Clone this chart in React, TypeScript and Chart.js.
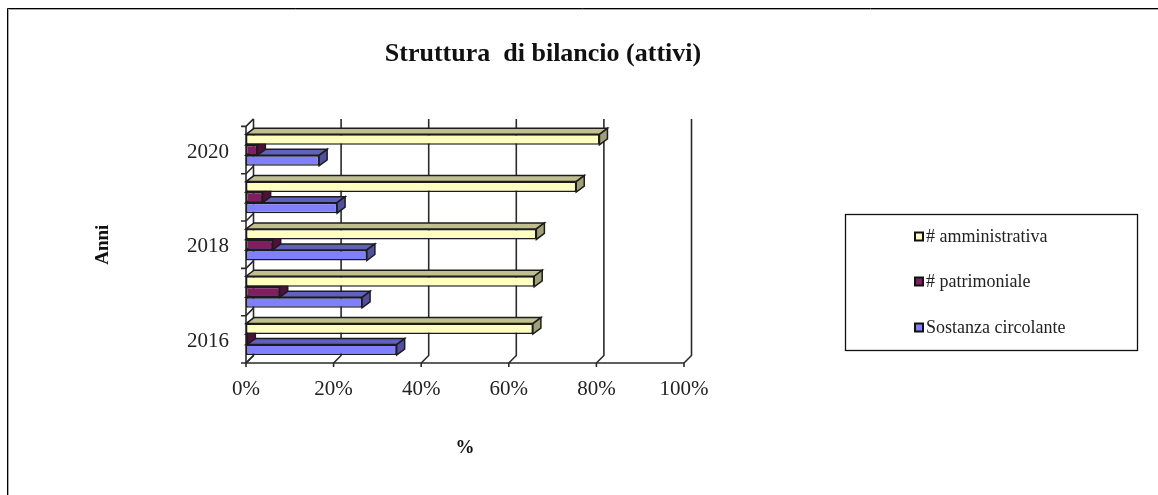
import React, { useEffect, useRef } from "react";
import { Chart, registerables } from "chart.js";

Chart.register(...registerables);

const years = ["2020", "2019", "2018", "2017", "2016"];
const shownYears = ["2020", "", "2018", "", "2016"];
const amministrativa = [80.7, 75.4, 66.3, 65.8, 65.5];
const patrimoniale = [2.6, 3.8, 6.1, 7.7, 0.3];
const circolante = [16.7, 20.8, 27.6, 26.5, 34.4];
const xTicks = [0, 20, 40, 60, 80, 100];

const SERIF = "'Liberation Serif', 'Times New Roman', serif";
const INK = "#2b2b2b";
const DX = 8;
const DY = 6;
const WALL = 7.5;

const shades: Record<string, { top: string; side: string }> = {
  "# amministrativa": { top: "#bfbf90", side: "#9f9f78" },
  "# patrimoniale": { top: "#60184a", side: "#4f103c" },
  "Sostanza circolante": { top: "#6060bf", side: "#50509f" },
};

const wallsPlugin = {
  id: "walls",
  beforeDatasetsDraw(chart: any) {
    const { ctx, chartArea: a, scales } = chart;
    const x = scales.x;
    ctx.save();
    ctx.strokeStyle = INK;
    ctx.lineWidth = 1.6;
    xTicks.forEach((t) => {
      const px = x.getPixelForValue(t);
      ctx.beginPath();
      ctx.moveTo(px + WALL, a.top - WALL);
      ctx.lineTo(px + WALL, a.bottom - WALL);
      ctx.lineTo(px, a.bottom);
      ctx.lineTo(px, a.bottom + 4);
      ctx.stroke();
    });
    ctx.beginPath();
    ctx.moveTo(a.left, a.top);
    ctx.lineTo(a.left, a.bottom);
    ctx.lineTo(a.right, a.bottom);
    ctx.stroke();
    const band = (a.bottom - a.top) / years.length;
    for (let i = 0; i <= years.length; i++) {
      const py = a.top + i * band;
      ctx.beginPath();
      ctx.moveTo(a.left - 5, py);
      ctx.lineTo(a.left, py);
      ctx.lineTo(a.left + WALL, py - WALL);
      ctx.stroke();
    }
    ctx.restore();
  },
};

const depthPlugin = {
  id: "depth",
  beforeDatasetDraw(chart: any, args: any) {
    const { ctx } = chart;
    const meta = args.meta;
    const shade = shades[chart.data.datasets[args.index].label];
    ctx.save();
    ctx.strokeStyle = "#1c1c1c";
    ctx.lineWidth = 1.5;
    meta.data.forEach((bar: any) => {
      const { x, y, base, height } = bar.getProps(["x", "y", "base", "height"], true);
      const t = y - height / 2;
      const b = y + height / 2;
      ctx.fillStyle = shade.top;
      ctx.beginPath();
      ctx.moveTo(base, t);
      ctx.lineTo(base + DX, t - DY);
      ctx.lineTo(x + DX, t - DY);
      ctx.lineTo(x, t);
      ctx.closePath();
      ctx.fill();
      ctx.stroke();
      ctx.fillStyle = shade.side;
      ctx.beginPath();
      ctx.moveTo(x, t);
      ctx.lineTo(x + DX, t - DY);
      ctx.lineTo(x + DX, b - DY);
      ctx.lineTo(x, b);
      ctx.closePath();
      ctx.fill();
      ctx.stroke();
    });
    ctx.restore();
  },
};

const framePlugin = {
  id: "frame",
  afterDraw(chart: any) {
    const { ctx } = chart;
    ctx.save();
    ctx.strokeStyle = "#a8a8a8";
    ctx.lineWidth = 1;
    ctx.beginPath();
    ctx.moveTo(8.5, 495);
    ctx.lineTo(8.5, 9.5);
    ctx.lineTo(1158, 9.5);
    ctx.stroke();
    ctx.strokeStyle = "#000";
    ctx.beginPath();
    ctx.moveTo(7.5, 495);
    ctx.lineTo(7.5, 8.5);
    ctx.lineTo(1158, 8.5);
    ctx.stroke();
    // legend box
    ctx.strokeStyle = "#111";
    ctx.lineWidth = 1.3;
    ctx.strokeRect(845.5, 214.5, 292, 136);
    const rows = [237, 282, 328];
    ctx.font = `18px ${SERIF}`;
    ctx.textBaseline = "middle";
    ctx.textAlign = "left";
    chart.data.datasets.forEach((ds: any, i: number) => {
      ctx.fillStyle = ds.backgroundColor;
      ctx.strokeStyle = "#111";
      ctx.lineWidth = 2;
      ctx.fillRect(915, rows[i] - 4.5, 8, 8);
      ctx.strokeRect(915, rows[i] - 4.5, 8, 8);
      ctx.fillStyle = "#222";
      ctx.fillText(ds.label, 926, rows[i]);
    });
    ctx.restore();
  },
};

function dataset(label: string, data: number[], color: string) {
  return {
    label,
    data,
    backgroundColor: color,
    borderColor: "#1c1c1c",
    borderWidth: 1.5,
    borderSkipped: false,
    categoryPercentage: 0.667,
    barPercentage: 1,
  };
}

export default function App() {
  const ref = useRef<HTMLCanvasElement | null>(null);
  useEffect(() => {
    document.body.style.margin = "0";
    document.body.style.background = "#fff";
    const chart = new Chart(ref.current as HTMLCanvasElement, {
      type: "bar",
      data: {
        labels: years,
        datasets: [
          dataset("# amministrativa", amministrativa, "#ffffc0"),
          dataset("# patrimoniale", patrimoniale, "#7f1f5f"),
          dataset("Sostanza circolante", circolante, "#8080ff"),
        ],
      },
      options: {
        animation: false,
        responsive: false,
        indexAxis: "y",
        layout: { padding: { left: 7, right: 79, top: 0, bottom: 28 } },
        plugins: {
          legend: { display: false },
          tooltip: { enabled: false },
          title: {
            display: true,
            text: "Struttura  di bilancio (attivi)",
            color: "#111",
            font: { family: SERIF, size: 26, weight: "bold" },
            padding: { top: 38.5, bottom: 56.7 },
          },
        },
        scales: {
          x: {
            min: 0,
            max: 100,
            grid: { display: false },
            border: { display: false },
            afterFit: (s: any) => {
              s.height = 104;
            },
            afterBuildTicks: (s: any) => {
              s.ticks = xTicks.map((value) => ({ value }));
            },
            ticks: {
              color: "#222",
              padding: 6,
              maxRotation: 0,
              font: { family: SERIF, size: 21 },
              callback: (v: any) => `${v}%`,
            },
            title: {
              display: true,
              text: "%",
              color: "#111",
              padding: { top: 0, bottom: 8 },
              font: { family: SERIF, size: 19, weight: "bold" },
            },
          },
          y: {
            grid: { display: false },
            border: { display: false },
            afterFit: (s: any) => {
              s.width = 239;
            },
            ticks: {
              color: "#222",
              padding: 9,
              labelOffset: 2,
              autoSkip: false,
              font: { family: SERIF, size: 21 },
              callback: (_v: any, i: number) => shownYears[i],
            },
            title: {
              display: true,
              text: "Anni",
              color: "#111",
              padding: { top: 85, bottom: 0 },
              font: { family: SERIF, size: 19, weight: "bold" },
            },
          },
          legendSpace: {
            type: "linear",
            axis: "y",
            position: "right",
            grid: { display: false },
            border: { display: false },
            ticks: { display: false },
            afterFit: (s: any) => {
              s.width = 395;
            },
          },
        },
      },
      plugins: [wallsPlugin, depthPlugin, framePlugin],
    } as any);
    return () => chart.destroy();
  }, []);
  return <canvas ref={ref} width={1158} height={495} style={{ display: "block" }} />;
}
